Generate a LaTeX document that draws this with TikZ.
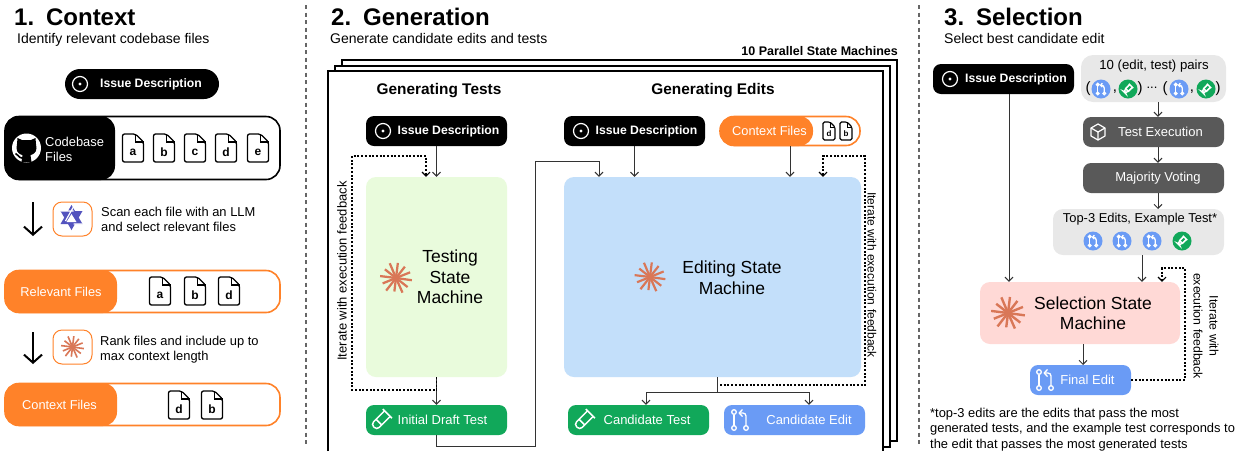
\documentclass[tikz,border=0pt]{standalone}
\usepackage{fontspec}
\setmainfont{Liberation Sans}
\usetikzlibrary{arrows.meta}
\definecolor{orangefill}{HTML}{FF8229}
\definecolor{burstcol}{HTML}{D97757}
\definecolor{testgreen}{HTML}{11A85A}
\definecolor{editblue}{HTML}{6A9BF5}
\definecolor{greenpane}{HTML}{E9FBDC}
\definecolor{bluepane}{HTML}{C3DFFA}
\definecolor{pinkpane}{HTML}{FFD9D6}
\definecolor{graypane}{HTML}{E8E8E8}
\definecolor{darkbox}{HTML}{595959}
\definecolor{llmblue}{HTML}{5353BE}
\tikzset{
  box/.style={rectangle,rounded corners=8,minimum height=30,inner sep=0,text=white,font=\fontsize{13}{15}\selectfont},
  blackbox/.style={box,fill=black,font=\fontsize{12.2}{14}\selectfont\bfseries,minimum width=141},
  greenbox/.style={box,fill=testgreen,minimum width=141},
  bluebox/.style={box,fill=editblue,minimum width=141},
  darkgray/.style={box,fill=darkbox,minimum width=141},
  pane/.style={rectangle,rounded corners=10,inner sep=0,align=center,font=\fontsize{17.5}{20.5}\selectfont},
  filebar/.style={rectangle,rounded corners=14,draw=#1,line width=1.6,fill=white,inner sep=0},
  barhead/.style={rectangle,rounded corners=14,fill=#1,inner sep=0,text=white,font=\fontsize{12.8}{15}\selectfont},
  iconframe/.style={rectangle,rounded corners=9,draw=orangefill,line width=1,fill=white,inner sep=0,minimum width=39,minimum height=34},
  title/.style={anchor=base west,inner sep=0,font=\fontsize{24}{28}\selectfont\bfseries},
  subtitle/.style={anchor=base west,inner sep=0,font=\fontsize{14}{16}\selectfont},
  heading/.style={inner sep=0,font=\fontsize{15.4}{18}\selectfont\bfseries},
  plaintext/.style={anchor=north west,inner sep=0,align=left,font=\fontsize{12.9}{15.3}\selectfont},
  sidetext/.style={inner sep=0,align=center,font=\fontsize{13}{16}\selectfont},
  flow/.style={draw=black!80,line width=1,-{Straight Barb[length=4,width=8]}},
  feedback/.style={draw=black,line width=1.1,dash pattern=on 2 off 1.7,-{Straight Barb[length=4,width=8]}},
  bigarrow/.style={draw=black,line width=2,-{Straight Barb[length=8,width=18]}},
  sheet/.style={draw=black,line width=1.8,fill=white},
  pics/fileicon/.style={code={
    \draw[black,line width=1.3,fill=white,rounded corners=2] (-10.5,-14)--(2.5,-14)--(10.5,-6)--(10.5,14)--(-10.5,14)--cycle;
    \draw[black,line width=1.2] (2.5,-14)--(2.5,-6)--(10.5,-6);
    \node[inner sep=0,font=\fontsize{12}{13}\selectfont\bfseries] (filelabel) at (0,4) {#1};
  }},
  pics/smallfile/.style={code={
    \draw[black,line width=1.1,fill=white,rounded corners=1.5] (-6,-9)--(1,-9)--(6,-4)--(6,9)--(-6,9)--cycle;
    \draw[black,line width=.8] (1,-9)--(1,-4)--(6,-4);
    \node[inner sep=0,font=\fontsize{8}{9}\selectfont\bfseries] (filelabel) at (0,3) {#1};
  }},
  pics/issueicon/.style={code={
    \draw[white,line width=1.2] (0,0) circle (7.5);
    \fill[white] (0,0) circle (1.7);
  }},
  pics/burst/.style={code={
    \foreach \ang/\len in {8/1,38/.92,66/1,97/.85,128/1,158/.9,187/1,218/.88,247/1,277/.95,308/.9,338/.95}
      \draw[burstcol,line width=.14*#1] (0,0)--(\ang:\len*#1);
  }},
  pics/editicon/.style={code={
    \draw[white,line width=1.3] (-6,-5.5)--(-6,5.5);
    \draw[white,line width=1.3] (-6,-8) circle (2.3);
    \draw[white,line width=1.3] (-6,8) circle (2.3);
    \draw[white,line width=1.3] (6,8) circle (2.3);
    \draw[white,line width=1.3,rounded corners=3] (6,5.7)--(6,-7)--(0,-7);
    \draw[white,line width=1.3] (2.5,-10.5)--(-.8,-7)--(2.5,-3.5);
  }},
  pics/testicon/.style={code={
    \begin{scope}[rotate=-45]
      \draw[white,line width=1.5,rounded corners=3.5] (-4,-9)--(-4,10)--(4,10)--(4,-9);
      \draw[white,line width=1.5] (-6.5,-9)--(6.5,-9);
      \draw[white,line width=1.5] (-4,3)--(4,3);
    \end{scope}
  }},
  pics/cubeicon/.style={code={
    \draw[white,line width=1.2,line join=round] (0,-8)--(7,-4)--(7,4)--(0,8)--(-7,4)--(-7,-4)--cycle;
    \draw[white,line width=1.2,line join=round] (-7,-4)--(0,0)--(7,-4) (0,0)--(0,8);
  }},
  pics/llmicon/.style={code={
    \fill[llmblue] (0,-13)--(11,6)--(-11,6)--cycle;
    \fill[llmblue] (0,12)--(11,-7)--(-11,-7)--cycle;
    \fill[white] (0,-4)--(5,4)--(-5,4)--cycle;
    \draw[white,line width=1.2] (-11,-7)--(2,-7) (3,-13)--(-6,3) (11,6)--(2,6);
  }},
  pics/githubicon/.style={code={
    \fill[white] (0,0) circle (14.5);
    \fill[black] (-9,-10)--(-4.5,-8)--(4.5,-8)--(9,-10)--(9.5,-4)--(10,0) .. controls (10,5) and (6,6.5) .. (4,7)--(5,14)--(-5,14)--(-4,7) .. controls (-6,6.5) and (-10,5) .. (-10,0)--(-9.5,-4)--cycle;
    \draw[black,line width=1.6] (-11,5.5) .. controls (-8,6) and (-8,10) .. (-4.5,10);
  }},
}
\begin{document}
\begin{tikzpicture}[x=1pt,y=-1pt]
\useasboundingbox (0,0) rectangle (1242,451);

% section 1
\node[title] (ctxtitle) at (14,25) {1.\hspace{3pt} Context};
\node[subtitle] (ctxsub) at (17,43) {Identify relevant codebase files};
\node[blackbox,rounded corners=15,minimum width=154] (issueC) at (142,84) {\hspace*{18pt}Issue Description};
\pic at (80,84) {issueicon};

\node[filebar=black,minimum width=275,minimum height=63] (codebar) at (142.5,148) {};
\node[barhead=black,minimum width=110,minimum height=64] (codehead) at (60,148) {};
\node[plaintext,text=white] (codetext) at (45,136.5) {Codebase\\Files};
\pic at (26.5,148) {githubicon};
\foreach \xf/\lf in {133/a,164/b,195/c,226/d,258/e}
  \pic at (\xf,148) {fileicon=\lf};

\coordinate (scanA) at (33,202);
\coordinate (scanB) at (33,236);
\draw[bigarrow] (scanA) -- (scanB);
\node[iconframe] (scanicon) at (72.5,219) {};
\pic at (71.5,218) {llmicon};
\node[plaintext] (scantext) at (101,207) {Scan each file with an LLM\\and select relevant files};

\node[filebar=orangefill,minimum width=275,minimum height=42] (relbar) at (142.5,291.5) {};
\node[barhead=orangefill,minimum width=112,minimum height=43] (relhead) at (61,291.5) {Relevant Files};
\foreach \xf/\lf in {160/a,195/b,229/d}
  \pic at (\xf,291) {fileicon=\lf};

\coordinate (rankA) at (33,332);
\coordinate (rankB) at (33,364);
\draw[bigarrow] (rankA) -- (rankB);
\node[iconframe] (rankicon) at (72.5,347) {};
\pic at (72.5,347) {burst=11.5};
\node[plaintext] (ranktext) at (100,336) {Rank files and include up to\\max context length};

\node[filebar=orangefill,minimum width=275,minimum height=42] (ctxbar) at (142.5,404.5) {};
\node[barhead=orangefill,minimum width=112,minimum height=43] (ctxhead) at (61,404.5) {\hspace*{-3pt}Context Files};
\foreach \xf/\lf in {179/d,212/b}
  \pic at (\xf,405) {fileicon=\lf};

\draw[black!60,line width=1.6,dash pattern=on 4 off 3.5] (306,5) -- (306,447);
\draw[black!60,line width=1.6,dash pattern=on 4 off 3.5] (919,5) -- (919,447);

% section 2
\node[title] (gentitle) at (331,25) {2.\hspace{3pt} Generation};
\node[subtitle] (gensub) at (330,43) {Generate candidate edits and tests};
\node[anchor=base east,inner sep=0,font=\fontsize{12.5}{14}\selectfont\bfseries] (parallel) at (898,55) {10 Parallel State Machines};

\draw[sheet] (342,60) rectangle (897,441);
\draw[sheet] (335,66) rectangle (890,447);
\fill[white] (328,71) rectangle (883,451);
\draw[black,line width=1.8] (328,451) -- (328,71) -- (883,71) -- (883,451);

\node[heading] (headT) at (439,91) {Generating Tests};
\node[heading] (headE) at (713,91) {Generating Edits};

\node[blackbox] (issueT) at (436.5,131) {\hspace*{24pt}Issue Description};
\pic at (383,131) {issueicon};
\node[blackbox] (issueE) at (634.5,131) {\hspace*{24pt}Issue Description};
\pic at (581,131) {issueicon};

\node[filebar=orangefill,minimum width=140,minimum height=29] (ctxE) at (790,131) {};
\node[barhead=orangefill,minimum width=93,minimum height=30] (ctxEhead) at (766.5,131) {\hspace*{6pt}Context Files};
\pic at (829,131) {smallfile=d};
\pic at (846,131) {smallfile=b};

\node[pane,fill=greenpane,minimum width=141,minimum height=200] (testSM) at (436.5,277) {};
\node[inner sep=0,align=center,font=\fontsize{17.5}{20.5}\selectfont] (testtext) at (450,277) {Testing\\State\\Machine};
\pic at (396,278) {burst=16};

\node[pane,fill=bluepane,minimum width=297,minimum height=200] (editSM) at (712.5,277) {};
\node[inner sep=0,align=center,font=\fontsize{17.5}{20.5}\selectfont] (edittext) at (732,277.5) {Editing State\\Machine};
\pic at (650,277) {burst=15.5};

\node[greenbox] (draftT) at (436.5,420) {\hspace*{12pt}Initial Draft Test};
\pic at (381,420) {testicon};
\node[greenbox] (candT) at (638.5,420) {\hspace*{17pt}Candidate Test};
\pic at (584,420) {testicon};
\node[bluebox] (candE) at (794.5,420) {\hspace*{29pt}Candidate Edit};
\pic at (740,420) {editicon};

\draw[flow] (issueT.south) -- (issueT.south |- testSM.north);
\draw[flow] (issueE.south) -- (issueE.south |- editSM.north);
\draw[flow] (ctxE.south) -- (ctxE.south |- editSM.north);
\draw[flow] (testSM.south) -- (draftT.north);

\coordinate (draftturn) at (535,446);
\coordinate (draftdrop) at (599,161);
\draw[flow] (draftT.south) |- (draftturn) |- (draftdrop) -- (draftdrop |- editSM.north);

\coordinate (tloopA) at (352,390);
\coordinate (tloopB) at (426,156);
\draw[feedback] (testSM.south) |- (tloopA) |- (tloopB) -- (tloopB |- testSM.north);
\node[sidetext,rotate=90] (testside) at (342,271) {Iterate with execution feedback};

\coordinate (eloopS) at (720,385);
\coordinate (eloopA) at (865,385);
\coordinate (eloopB) at (823,156);
\draw[feedback] (eloopS) -- (eloopA) |- (eloopB) -- (eloopB |- editSM.north);
\node[sidetext,rotate=-90,font=\fontsize{12}{15}\selectfont] (editside) at (872,275) {Iterate with execution feedback};

\coordinate (editOut) at (717,377);
\coordinate (branchT) at (646,392);
\coordinate (branchE) at (809,392);
\draw[flow] (editOut) |- (branchT) -- (branchT |- candT.north);
\draw[flow] (editOut) |- (branchE) -- (branchE |- candE.north);

% section 3
\node[title] (seltitle) at (944,25) {3.\hspace{3pt} Selection};
\node[subtitle] (selsub) at (944,43) {Select best candidate edit};

\node[blackbox] (issueS) at (1003.5,79) {\hspace*{25pt}Issue Description};
\pic at (950,79) {issueicon};

\node[pane,fill=graypane,rounded corners=12,minimum width=145,minimum height=47] (pairs) at (1153.5,78.5) {};
\node[inner sep=0,font=\fontsize{13.2}{15}\selectfont] (pairstext) at (1154,66) {10 (edit, test) pairs};
\node[inner sep=0,font=\fontsize{15}{16}\selectfont] (openA) at (1088,89) {(};
\node[inner sep=0,font=\fontsize{15}{16}\selectfont] (commaA) at (1115,92) {,};
\node[inner sep=0,font=\fontsize{15}{16}\selectfont] (closeA) at (1140,89) {)};
\node[inner sep=0,font=\fontsize{13}{14}\selectfont] (dots) at (1152,88) {...};
\node[inner sep=0,font=\fontsize{15}{16}\selectfont] (openB) at (1165,89) {(};
\node[inner sep=0,font=\fontsize{15}{16}\selectfont] (commaB) at (1192,92) {,};
\node[inner sep=0,font=\fontsize{15}{16}\selectfont] (closeB) at (1218,89) {)};
\foreach \xi in {1101,1179} {
  \fill[editblue] (\xi,89) circle (9.5);
  \pic[scale=.55] at (\xi,89) {editicon};
}
\foreach \xi in {1128,1206} {
  \fill[testgreen] (\xi,89) circle (9.5);
  \pic[scale=.48] at (\xi,89) {testicon};
}

\node[darkgray] (execbox) at (1153.5,132) {\hspace*{14pt}Test Execution};
\pic at (1098,132) {cubeicon};
\node[darkgray] (votebox) at (1153.5,178) {\hspace*{9pt}Majority Voting};

\node[pane,fill=graypane,minimum width=171,minimum height=46] (top3) at (1138.5,232) {};
\node[inner sep=0,font=\fontsize{12.9}{15}\selectfont] (top3text) at (1140,219) {Top-3 Edits, Example Test*};
\foreach \xi in {1093,1122,1152} {
  \fill[editblue] (\xi,241) circle (9.5);
  \pic[scale=.55] at (\xi,241) {editicon};
}
\fill[testgreen] (1182,241) circle (9.5);
\pic[scale=.48] at (1182,241) {testicon};

\node[pane,fill=pinkpane,minimum width=200,minimum height=62] (selectSM) at (1080,313) {};
\node[inner sep=0,align=center,font=\fontsize{17.5}{20.5}\selectfont] (selecttext) at (1093,313) {Selection State\\Machine};
\pic at (1008,313) {burst=17};

\node[bluebox,minimum width=101] (finalE) at (1080.5,380) {\hspace*{14pt}Final Edit};
\pic at (1045,380) {editicon};

\coordinate (pairsOut) at (1158,102);
\coordinate (top3In) at (1158,209);
\coordinate (top3Out) at (1142,255);
\coordinate (issueOut) at (1009,94);
\coordinate (finalIn) at (1083,365);
\coordinate (smOut) at (1083,344);
\draw[flow] (pairsOut) -- (pairsOut |- execbox.north);
\draw[flow] (pairsOut |- execbox.south) -- (pairsOut |- votebox.north);
\draw[flow] (pairsOut |- votebox.south) -- (top3In);
\draw[flow] (top3Out) -- (top3Out |- selectSM.north);
\draw[flow] (issueOut) -- (issueOut |- selectSM.north);
\draw[flow] (smOut) -- (finalIn);

\coordinate (sloopA) at (1185,268);
\coordinate (sloopB) at (1162,268);
\draw[feedback] (finalE.east) -| (sloopA) -- (sloopB) -- (sloopB |- selectSM.north);
\node[sidetext,rotate=-90,font=\fontsize{12.3}{16}\selectfont] (selside) at (1206,326) {Iterate with\\execution feedback};

\node[plaintext] (footnote) at (930,408) {*top-3 edits are the edits that pass the most\\generated tests, and the example test corresponds to\\the edit that passes the most generated tests};
\end{tikzpicture}
\end{document}
